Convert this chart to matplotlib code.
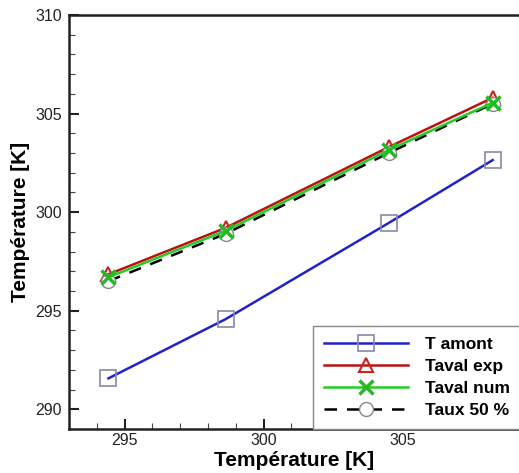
import matplotlib
matplotlib.use("Agg")
import matplotlib.pyplot as plt
from matplotlib.ticker import MultipleLocator

plt.rcParams['font.family'] = ['Liberation Sans', 'DejaVu Sans']

x = [294.42, 298.63, 304.5, 308.24]
t_amont = [291.57, 294.57, 299.45, 302.64]
taval_exp = [296.85, 299.2, 303.3, 305.8]
taval_num = [296.7, 299.05, 303.15, 305.55]
taux_50 = [296.5, 298.9, 303.0, 305.5]

labels = ["T amont", "Taval exp", "Taval num", "Taux 50 %"]

fig = plt.figure(figsize=(5.19, 4.73), dpi=100)
L, B, T = 69 / 519, 44 / 473, 1 - 15 / 473
ppu = 27.8
x0, x1 = 293, 309.6
wpx = (x1 - x0) * ppu
ax = fig.add_axes([L, B, wpx / 519, T - B])

ax.plot(x, t_amont, color='#2222cc', lw=1.8, marker='s', ms=12,
        mfc='none', mec='#8888aa', mew=1.2, label=labels[0], zorder=3)
ax.plot(x, taval_exp, color='#bb1111', lw=1.8, marker='^', ms=10,
        mfc='none', mec='#cc2222', mew=1.5, label=labels[1], zorder=4)
ax.plot(x, taux_50, color='black', lw=1.8, ls=(0, (5, 4)), marker='o', ms=10,
        mfc='white', mec='#888888', mew=1.0, label=labels[3], zorder=5)
ax.plot(x, taval_num, color='#22cc22', lw=1.8, marker='x', ms=10,
        mec='#22bb22', mew=2.5, label=labels[2], zorder=6)

ax.set_xlim(x0, x1)
ax.set_ylim(289, 310)
ax.xaxis.set_major_locator(MultipleLocator(5))
ax.xaxis.set_minor_locator(MultipleLocator(1))
ax.yaxis.set_major_locator(MultipleLocator(5))
ax.yaxis.set_minor_locator(MultipleLocator(1))
ax.tick_params(which='major', direction='in', length=7, width=1.5, labelsize=11.5, colors='#222222', pad=5)
ax.tick_params(axis='x', which='major', pad=3)
ax.tick_params(which='minor', direction='in', length=4, width=0.8, colors='#444444')
ax.tick_params(top=False, right=False, which='both')
for s in ax.spines.values():
    s.set_linewidth(1.8)
    s.set_color('#222222')

ax.set_xlabel("Température [K]", fontsize=15, fontweight='bold')
ax.xaxis.set_label_coords((294 - 69) / wpx, -0.052)
ax.set_ylabel("Température [K]", fontsize=15, fontweight='bold', labelpad=4)

handles, labs = ax.get_legend_handles_labels()
order = [labs.index(l) for l in labels]
leg = ax.legend([handles[i] for i in order], [labs[i] for i in order],
                loc='lower left', bbox_to_anchor=(313 / 519, B),
                bbox_transform=fig.transFigure, frameon=True, fancybox=False,
                edgecolor='#888888', framealpha=1, handlelength=4.8,
                prop={'weight': 'bold', 'size': 12.5}, labelspacing=0.38,
                borderpad=0.65, handletextpad=1.0, borderaxespad=0)
leg.get_frame().set_linewidth(1.0)
leg.set_zorder(10)

fig.savefig("out.png", dpi=100)
